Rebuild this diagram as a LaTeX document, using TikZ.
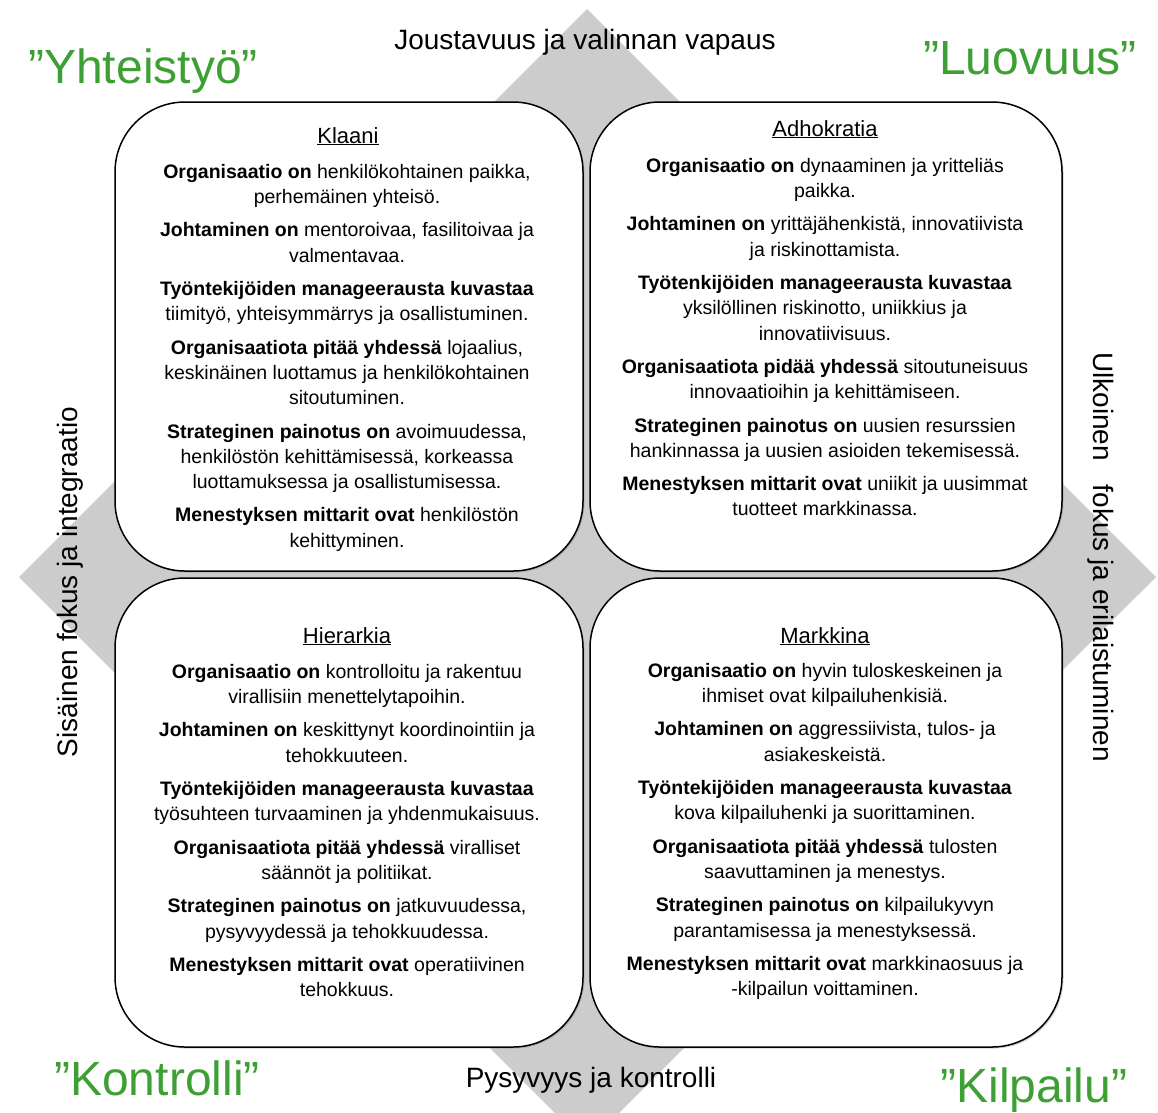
\documentclass[tikz,border=0pt]{standalone}
\usepackage{fontspec}
\setmainfont{Liberation Sans}
\usetikzlibrary{shadows}

\definecolor{culturegreen}{RGB}{62,160,52}
\definecolor{diamondgray}{RGB}{204,204,204}

\tikzset{
    quadrant/.style={draw, line width=1.5pt, fill=white, rounded corners=70pt,
        minimum width=468pt, minimum height=469pt,
        drop shadow={shadow xshift=1.5pt, shadow yshift=-1.5pt, opacity=.35}},
    quadtitle/.style={anchor=base, font=\fontsize{22}{26}\selectfont},
    quadtext/.style={anchor=north, align=center, inner sep=0pt,
        font=\fontsize{19.5}{25.3}\selectfont},
    axislabel/.style={anchor=base, font=\fontsize{28}{32}\selectfont},
    culture/.style={anchor=base, text=culturegreen, font=\fontsize{48}{56}\selectfont}
}

\begin{document}
\begin{tikzpicture}[x=1pt, y=-1pt]
    \useasboundingbox (0,0) rectangle (1158,1112);
    \fill[diamondgray] (587,9) -- (1156,577) -- (587,1145) -- (19,577) -- cycle;

    \node[quadrant] (klaani) at (349,336.5) {};
    \node[quadrant, minimum width=472pt] (adhokratia) at (826,336.5) {};
    \node[quadrant] (hierarkia) at (349,812.5) {};
    \node[quadrant, minimum width=472pt] (markkina) at (826,812.5) {};

    \node[quadtitle] (klaani title) at (348,143) {\underline{Klaani}};
    \node[quadtext] (klaani text) at (347,164) {
        \textbf{Organisaatio on} henkilökohtainen paikka,\\ perhemäinen yhteisö.\\[8pt]
        \textbf{Johtaminen on} mentoroivaa, fasilitoivaa ja\\ valmentavaa.\\[8pt]
        \textbf{Työntekijöiden manageerausta kuvastaa}\\ tiimityö, yhteisymmärrys ja osallistuminen.\\[8pt]
        \textbf{Organisaatiota pitää yhdessä} lojaalius,\\ keskinäinen luottamus ja henkilökohtainen\\ sitoutuminen.\\[8pt]
        \textbf{Strateginen painotus on} avoimuudessa,\\ henkilöstön kehittämisessä, korkeassa\\ luottamuksessa ja osallistumisessa.\\[8pt]
        \textbf{Menestyksen mittarit ovat} henkilöstön\\ kehittyminen.};

    \node[quadtitle] (adhokratia title) at (825,136) {\underline{Adhokratia}};
    \node[quadtext] (adhokratia text) at (825,158) {
        \textbf{Organisaatio on} dynaaminen ja yritteliäs\\ paikka.\\[8pt]
        \textbf{Johtaminen on} yrittäjähenkistä, innovatiivista\\ ja riskinottamista.\\[8pt]
        \textbf{Työtenkijöiden manageerausta kuvastaa}\\ yksilöllinen riskinotto, uniikkius ja\\ innovatiivisuus.\\[8pt]
        \textbf{Organisaatiota pidää yhdessä} sitoutuneisuus\\ innovaatioihin ja kehittämiseen.\\[8pt]
        \textbf{Strateginen painotus on} uusien resurssien\\ hankinnassa ja uusien asioiden tekemisessä.\\[8pt]
        \textbf{Menestyksen mittarit ovat} uniikit ja uusimmat\\ tuotteet markkinassa.};

    \node[quadtitle] (hierarkia title) at (347,643) {\underline{Hierarkia}};
    \node[quadtext] (hierarkia text) at (347,664) {
        \textbf{Organisaatio on} kontrolloitu ja rakentuu\\ virallisiin menettelytapoihin.\\[8pt]
        \textbf{Johtaminen on} keskittynyt koordinointiin ja\\ tehokkuuteen.\\[8pt]
        \textbf{Työntekijöiden manageerausta kuvastaa}\\ työsuhteen turvaaminen ja yhdenmukaisuus.\\[8pt]
        \textbf{Organisaatiota pitää yhdessä} viralliset\\ säännöt ja politiikat.\\[8pt]
        \textbf{Strateginen painotus on} jatkuvuudessa,\\ pysyvyydessä ja tehokkuudessa.\\[8pt]
        \textbf{Menestyksen mittarit ovat} operatiivinen\\ tehokkuus.};

    \node[quadtitle] (markkina title) at (825,643) {\underline{Markkina}};
    \node[quadtext] (markkina text) at (825,663) {
        \textbf{Organisaatio on} hyvin tuloskeskeinen ja\\ ihmiset ovat kilpailuhenkisiä.\\[8pt]
        \textbf{Johtaminen on} aggressiivista, tulos- ja\\ asiakeskeistä.\\[8pt]
        \textbf{Työntekijöiden manageerausta kuvastaa}\\ kova kilpailuhenki ja suorittaminen.\\[8pt]
        \textbf{Organisaatiota pitää yhdessä} tulosten\\ saavuttaminen ja menestys.\\[8pt]
        \textbf{Strateginen painotus on} kilpailukyvyn\\ parantamisessa ja menestyksessä.\\[8pt]
        \textbf{Menestyksen mittarit ovat} markkinaosuus ja\\ -kilpailun voittaminen.};

    % axes of the competing values
    \node[axislabel] (flexibility) at (585,49) {Joustavuus ja valinnan vapaus};
    \node[axislabel] (stability) at (591,1087) {Pysyvyys ja kontrolli};
    \node[axislabel, rotate=90] (internal) at (77,582) {Sisäinen fokus ja integraatio};
    \node[axislabel, rotate=-90] (external) at (1093,557) {Ulkoinen\hspace{24pt}fokus ja erilaistuminen};

    \node[culture] (collaborate) at (143,83) {”Yhteistyö”};
    \node[culture] (create) at (1030,74) {”Luovuus”};
    \node[culture] (control) at (157,1095) {”Kontrolli”};
    \node[culture] (compete) at (1034,1102) {”Kilpailu”};
\end{tikzpicture}
\end{document}
